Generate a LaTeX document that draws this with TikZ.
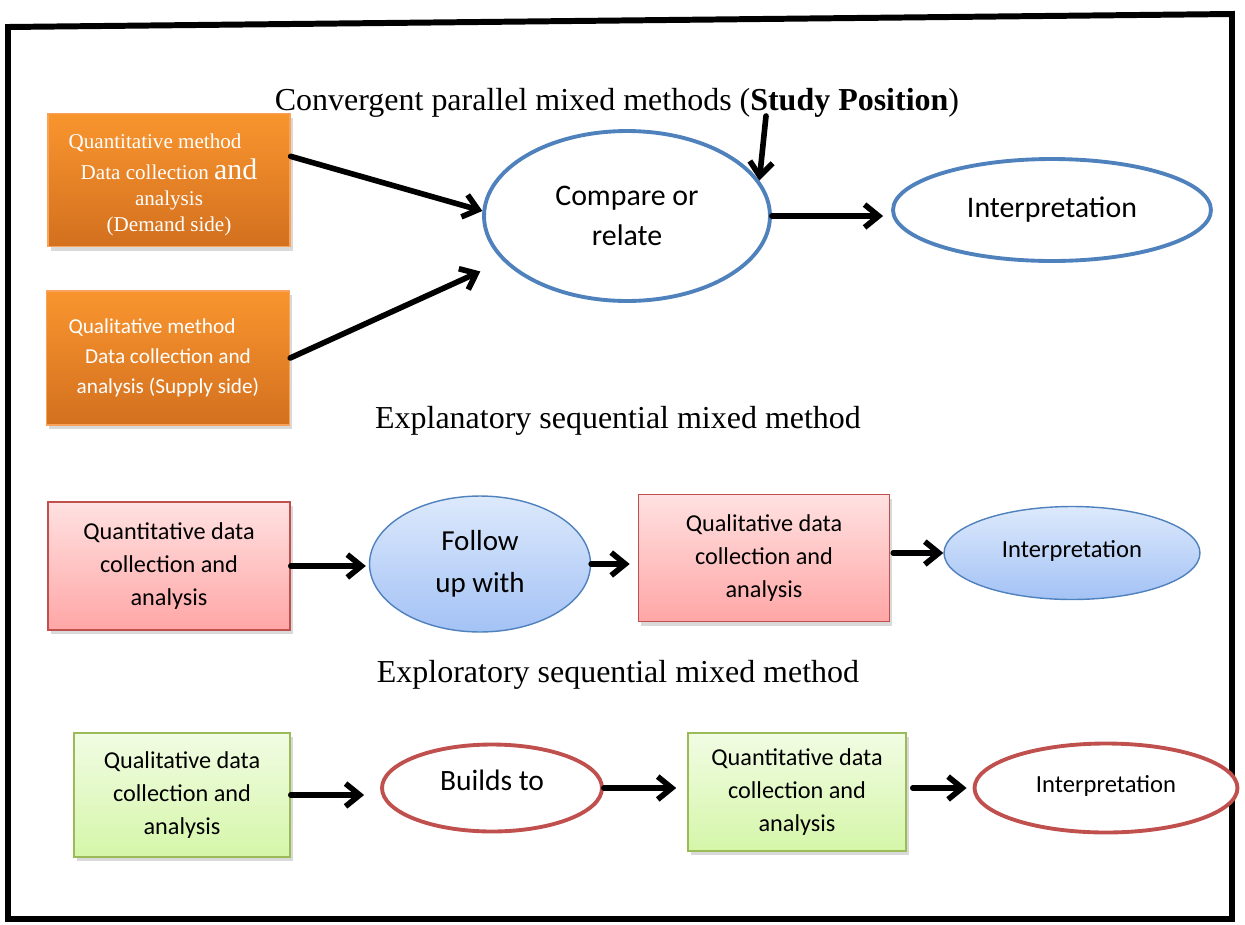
\documentclass[tikz,border=0pt]{standalone}
\usepackage{fontspec}
\setmainfont{Liberation Serif}
\newfontfamily\calibri{Carlito}
\usetikzlibrary{arrows.meta,shapes.geometric,shadows}
\definecolor{orangetop}{HTML}{F9952E}
\definecolor{orangebot}{HTML}{D3701F}
\definecolor{orangeline}{HTML}{F7A35A}
\definecolor{pinktop}{HTML}{FFE1E1}
\definecolor{pinkbot}{HTML}{FFA6A6}
\definecolor{pinkline}{HTML}{C0504D}
\definecolor{bluetop}{HTML}{DDE9FC}
\definecolor{bluebot}{HTML}{A3C2F5}
\definecolor{blueline}{HTML}{4F81BD}
\definecolor{greentop}{HTML}{F1FCE3}
\definecolor{greenbot}{HTML}{D5F6A9}
\definecolor{greenline}{HTML}{9BBB59}
\definecolor{redline}{HTML}{C0504D}
\tikzset{
  shadowed/.style={drop shadow={shadow xshift=1.5pt, shadow yshift=-2.5pt, opacity=0.3}},
  orangebox/.style={rectangle, draw=orangeline, line width=0.8pt, top color=orangetop, bottom color=orangebot, text=white, align=center, inner sep=2pt, shadowed},
  pinkbox/.style={rectangle, draw=pinkline, line width=0.9pt, top color=pinktop, bottom color=pinkbot, align=center, font=\calibri\fontsize{13.8}{18.7}\selectfont, shadowed},
  greenbox/.style={rectangle, draw=greenline, line width=0.9pt, top color=greentop, bottom color=greenbot, align=center, font=\calibri\fontsize{13.8}{18.7}\selectfont, shadowed},
  blueoval/.style={ellipse, draw=blueline, line width=2.2pt, fill=white, align=center, inner sep=0pt},
  bluebub/.style={ellipse, draw=blueline, line width=0.8pt, top color=bluetop, bottom color=bluebot, align=center, inner sep=0pt},
  redoval/.style={ellipse, draw=redline, line width=2.2pt, fill=white, align=center, inner sep=0pt},
  heading/.style={font=\fontsize{18.2}{22}\selectfont, inner sep=0pt},
  arr/.style={line width=3.2pt, line cap=round, -{Straight Barb[length=8pt,width=13pt]}}
}

\begin{document}
\begin{tikzpicture}[x=0.02cm, y=-0.02cm]
  \useasboundingbox (0,0) rectangle (1245,924);
  % outer frame
  \draw[line width=3.4pt, line join=miter] (8,27) -- (1232,14) -- (1232,919) -- (8,919) -- cycle;

  % convergent parallel
  \node[heading] (ttl1) at (617,103) {Convergent parallel mixed methods (\textbf{Study Position})};
  \coordinate (sp) at (766,116);

  \node[orangebox, minimum width=4.84cm, minimum height=2.66cm,
        font=\fontsize{12}{14.5}\selectfont] (qa) at (169,180)
    {\rule{0pt}{14pt}Quantitative method\hspace*{0.56cm}\\[3pt]
     Data collection {\fontsize{17}{14.5}\selectfont and}\\[0.5pt]
     analysis\\
     (Demand side)};
  \node[orangebox, minimum width=4.86cm, minimum height=2.68cm,
        font=\calibri\fontsize{12.1}{17}\selectfont] (ql) at (168,358)
    {Qualitative method\hspace*{0.64cm}\\ Data collection and\\ analysis (Supply side)};

  \node[blueoval, minimum width=5.72cm, minimum height=3.4cm,
        font=\calibri\fontsize{17}{23}\selectfont] (cmp) at (627,216) {Compare or\\ relate};
  \node[blueoval, minimum width=6.36cm, minimum height=2.04cm,
        font=\calibri\fontsize{17}{20}\selectfont] (int1) at (1052,210) {Interpretation};

  \draw[arr] (qa.11) -- (cmp.178);
  \draw[arr, shorten >=0.5cm] (ql.east) -- (cmp.200);
  \draw[arr] (sp) -- (cmp.15);
  \draw[arr, shorten >=0.16cm] (cmp.east) -- (cmp.east -| int1.west);

  % explanatory sequential
  \node[heading] (ttl2) at (618,421) {Explanatory sequential mixed method};

  \node[pinkbox, minimum width=4.84cm, minimum height=2.56cm] (qn2) at (169,566)
    {Quantitative data\\ collection and\\ analysis};
  \node[bluebub, minimum width=4.42cm, minimum height=2.72cm,
        font=\calibri\fontsize{16.5}{24}\selectfont] (fu) at (480,564) {Follow\\ up with};
  \node[pinkbox, minimum width=5.02cm, minimum height=2.54cm] (qd2) at (764,558)
    {Qualitative data\\ collection and\\ analysis};
  \node[bluebub, minimum width=5.12cm, minimum height=1.86cm,
        font=\calibri\fontsize{14}{16}\selectfont] (int2) at (1072,553) {\raisebox{5pt}{Interpretation}};

  \draw[arr, shorten >=0.06cm] (qn2.east) -- (qn2.east -| fu.west);
  \draw[arr, shorten >=0.16cm] (fu.east) -- (fu.east -| qd2.west);
  \draw[arr, shorten <=0.06cm] (int2.west -| qd2.east) -- (int2.west);

  % exploratory sequential
  \node[heading] (ttl3) at (618,675) {Exploratory sequential mixed method};

  \node[greenbox, minimum width=4.32cm, minimum height=2.48cm] (ql3) at (182,795)
    {Qualitative data\\ collection and\\ analysis};
  \node[redoval, minimum width=4.4cm, minimum height=1.74cm,
        font=\calibri\fontsize{16.8}{19}\selectfont] (bt) at (492,788) {\raisebox{9pt}{Builds to}};
  \node[greenbox, minimum width=4.36cm, minimum height=2.36cm] (qn3) at (797,792)
    {Quantitative data\\ collection and\\ analysis};
  \node[redoval, minimum width=5.26cm, minimum height=1.78cm,
        font=\calibri\fontsize{14}{16}\selectfont] (int3) at (1106,788) {\raisebox{5pt}{Interpretation}};

  \draw[arr, shorten >=0.32cm] (ql3.east) -- (ql3.east -| bt.west);
  \draw[arr, shorten >=0.22cm] (bt.east) -- (bt.east -| qn3.west);
  \draw[arr, shorten <=0.12cm, shorten >=0.12cm] (int3.west -| qn3.east) -- (int3.west);
\end{tikzpicture}
\end{document}
